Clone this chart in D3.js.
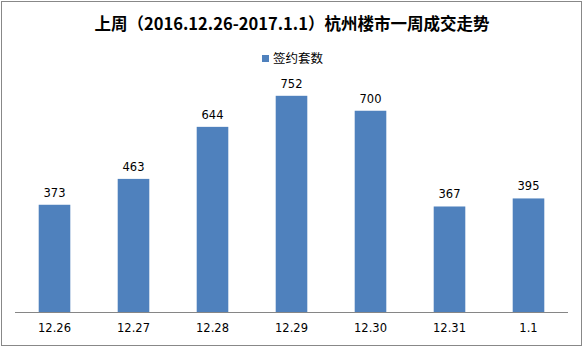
<!DOCTYPE html>
<html>
<head>
<meta charset="utf-8">
<script src="https://cdn.jsdelivr.net/npm/d3@7"></script>
<style>
body { margin: 0; background: #fff; }
</style>
</head>
<body>
<div id="chart"></div>
<script>
var title = "上周（2016.12.26-2017.1.1）杭州楼市一周成交走势";
var seriesName = "签约套数";
var days = ["12.26", "12.27", "12.28", "12.29", "12.30", "12.31", "1.1"];
var sales = [373, 463, 644, 752, 700, 367, 395];

var W = 584, H = 348;
var plot = {left: 15, right: 568, top: 82, bottom: 312};

var svg = d3.select("#chart").append("svg")
  .attr("width", W).attr("height", H);

// outer frame
svg.append("rect")
  .attr("x", 1.5).attr("y", 1.5)
  .attr("width", 580).attr("height", 344)
  .attr("fill", "#fff").attr("stroke", "#888").attr("stroke-width", 1);

svg.append("text")
  .attr("x", W / 2).attr("y", 30)
  .attr("text-anchor", "middle")
  .style("font-family", "'Noto Sans CJK SC', 'DejaVu Sans', sans-serif")
  .style("font-size", "16.5px").style("font-weight", "bold")
  .text(title);

// legend
var lg = svg.append("g");
lg.append("rect")
  .attr("x", 262).attr("y", 55).attr("width", 7).attr("height", 7)
  .attr("fill", "#4F81BD");
lg.append("text")
  .attr("x", 273).attr("y", 63)
  .style("font-family", "'Noto Sans CJK SC', sans-serif")
  .style("font-size", "12.5px")
  .text(seriesName);

var x = d3.scaleBand()
  .domain(days)
  .range([plot.left, plot.right])
  .paddingInner(0.6)
  .paddingOuter(0.3);

var y = d3.scaleLinear()
  .domain([0, 800])
  .range([plot.bottom, plot.top]);

// bars
svg.selectAll("rect.bar")
  .data(sales)
  .enter()
  .append("rect")
  .attr("class", "bar")
  .attr("x", function(d, i) { return x(days[i]); })
  .attr("y", function(d) { return y(d); })
  .attr("width", x.bandwidth())
  .attr("height", function(d) { return plot.bottom - y(d); })
  .attr("fill", "#4F81BD");

// value labels
svg.selectAll("text.val")
  .data(sales)
  .enter()
  .append("text")
  .attr("class", "val")
  .attr("x", function(d, i) { return x(days[i]) + x.bandwidth() / 2; })
  .attr("y", function(d) { return y(d) - 8; })
  .attr("text-anchor", "middle")
  .style("font-family", "'DejaVu Sans', sans-serif")
  .style("font-size", "11.5px")
  .text(function(d) { return d; });

// x axis
var xAxis = svg.append("g")
  .attr("transform", "translate(0," + plot.bottom + ")")
  .call(d3.axisBottom(x).tickSize(0).tickPadding(12));
xAxis.select(".domain").attr("stroke", "#868686").attr("d", "M" + plot.left + ",0.5H" + plot.right);
xAxis.selectAll("text")
  .style("font-family", "'DejaVu Sans', sans-serif")
  .style("font-size", "11.5px")
  .attr("fill", "#000");
</script>
</body>
</html>
